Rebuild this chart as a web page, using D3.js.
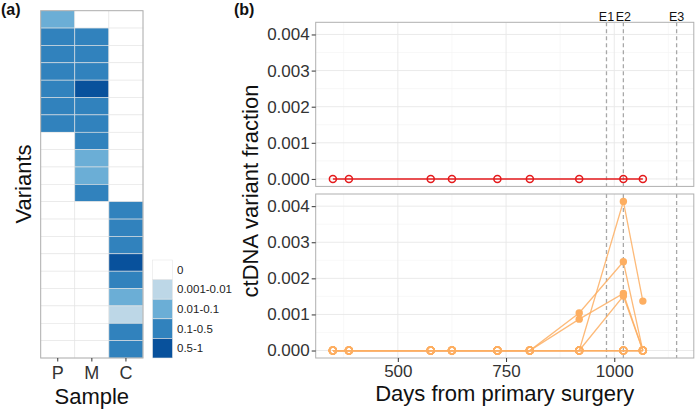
<!DOCTYPE html>
<html><head><meta charset="utf-8">
<script src="https://cdn.jsdelivr.net/npm/d3@7"></script>
<style>
body{margin:0;background:#fff}
text{font-family:"Liberation Sans",Arial,Helvetica,sans-serif}
</style>
</head><body>
<svg id="c" width="697" height="409"></svg>
<script>
// ---------- data: panel (a) heatmap ----------
const samples = ["P", "M", "C"];
const levels = ["0", "0.001-0.01", "0.01-0.1", "0.1-0.5", "0.5-1"];
const levelColors = ["#ffffff", "#bdd7e7", "#6baed6", "#3182bd", "#08519c"];
// level index per variant (20 variants, top to bottom)
const levelP = [2,3,3,3,3,3,3,0,0,0,0,0,0,0,0,0,0,0,0,0];
const levelM = [0,3,3,3,4,3,3,3,2,2,3,0,0,0,0,0,0,0,0,0];
const levelC = [0,0,0,0,0,0,0,0,0,0,0,3,3,3,4,3,2,1,3,3];

// ---------- data: panel (b) time series ----------
const days = [350, 387, 576, 625, 730, 805, 919, 1021, 1066];
const topSeries = [
  [0,0,0,0,0,0,0,0,0]
];
const bottomSeries = [
  [0,0,0,0,0,0,0,0,0],
  [0,0,0,0,0,0,0,0,0],
  [0,0,0,0,0,0,0,0,0],
  [0,0,0,0,0,0,0,0,0],
  [0,0,0,0,0,0,0,0,0],
  [0,0,0,0,0,0,0.00104,0.00246,0],
  [0,0,0,0,0,0,0.00087,0.00158,0],
  [0,0,0,0,0,0,0,0.00151,0],
  [0,0,0,0,0,0,0,0.00413,0.00137]
];
const eventNames = ["E1", "E2", "E3"];
const eventDays = [982, 1021, 1144];
const xTickVals = [500, 750, 1000];
const xMinorVals = [375, 625, 875, 1125];
const yTickVals = [0, 0.001, 0.002, 0.003, 0.004];
const yMinorVals = [0.0005, 0.0015, 0.0025, 0.0035];

const svg = d3.select("#c");
const FONT = '"Liberation Sans",Arial,sans-serif';

// ================= Panel (a) =================
const hx = d3.scaleBand().domain(samples).range([40.7, 143]);
const hy = d3.scaleBand().domain(d3.range(levelP.length)).range([10.7, 358]);
const hColor = d3.scaleOrdinal().domain(d3.range(levels.length)).range(levelColors);

const cells = [];
[levelP, levelM, levelC].forEach((arr, si) => {
  arr.forEach((lv, ri) => cells.push({s: samples[si], r: ri, lv}));
});
const gA = svg.append("g");
gA.selectAll("rect.cell").data(cells).enter().append("rect")
  .attr("class", "cell")
  .attr("x", d => hx(d.s)).attr("y", d => hy(d.r))
  .attr("width", hx.bandwidth()).attr("height", hy.bandwidth())
  .attr("fill", d => hColor(d.lv))
  .attr("stroke", "#e4e4e4").attr("stroke-width", 0.6);
gA.append("rect").attr("x", 40.7).attr("y", 10.7)
  .attr("width", 143 - 40.7).attr("height", 358 - 10.7)
  .attr("fill", "none").attr("stroke", "#b0b0b0").attr("stroke-width", 1);

const axA = gA.append("g").attr("transform", "translate(0,358)")
  .call(d3.axisBottom(hx).tickSize(3.5).tickPadding(5));
axA.select(".domain").remove();
axA.selectAll("line").attr("stroke", "#333");
axA.selectAll("text").attr("font-size", 18).attr("fill", "#333").attr("font-family", FONT);

gA.append("text").attr("x", 91.8).attr("y", 404).attr("text-anchor", "middle")
  .attr("font-size", 22).attr("fill", "#111").text("Sample");
gA.append("text").attr("transform", "translate(31,184) rotate(-90)")
  .attr("text-anchor", "middle").attr("font-size", 22).attr("fill", "#111").text("Variants");
svg.append("text").attr("x", 1).attr("y", 15).attr("font-size", 16)
  .attr("font-weight", "bold").attr("fill", "#111").text("(a)");

// legend
const lg = svg.append("g");
const keyH = 19.6;
const lgY = d3.scaleBand().domain(d3.range(levels.length)).range([260, 260 + keyH * levels.length]);
lg.selectAll("rect").data(levels).enter().append("rect")
  .attr("x", 152.5).attr("y", (d, i) => lgY(i))
  .attr("width", 20).attr("height", lgY.bandwidth())
  .attr("fill", (d, i) => hColor(i))
  .attr("stroke", "#e6e6e6").attr("stroke-width", 0.6);
lg.selectAll("text").data(levels).enter().append("text")
  .attr("x", 177).attr("y", (d, i) => lgY(i) + lgY.bandwidth() / 2)
  .attr("dy", "0.35em").attr("font-size", 11.5).attr("fill", "#222").text(d => d);

// ================= Panel (b) =================
const xL = 315.7, xR = 693.8;
const x = d3.scaleLinear().domain([310.3, 1183.7]).range([xL, xR]);
const panels = [
  {top: 22.3, bottom: 186.4, series: topSeries, color: "#e41a1c"},
  {top: 194, bottom: 358, series: bottomSeries, color: "#fdae61"}
];
const gB = svg.append("g");

panels.forEach((p, pi) => {
  const y = d3.scaleLinear().domain([-0.000207, 0.004337]).range([p.bottom, p.top]);
  const g = gB.append("g");
  // minor grid
  g.selectAll("line.mx").data(xMinorVals).enter().append("line")
    .attr("x1", d => x(d)).attr("x2", d => x(d)).attr("y1", p.top).attr("y2", p.bottom)
    .attr("stroke", "#f3f3f3").attr("stroke-width", 0.6);
  g.selectAll("line.my").data(yMinorVals).enter().append("line")
    .attr("y1", d => y(d)).attr("y2", d => y(d)).attr("x1", xL).attr("x2", xR)
    .attr("stroke", "#f3f3f3").attr("stroke-width", 0.6);
  // major grid
  g.selectAll("line.gx").data(xTickVals).enter().append("line")
    .attr("x1", d => x(d)).attr("x2", d => x(d)).attr("y1", p.top).attr("y2", p.bottom)
    .attr("stroke", "#e8e8e8").attr("stroke-width", 0.9);
  g.selectAll("line.gy").data(yTickVals).enter().append("line")
    .attr("y1", d => y(d)).attr("y2", d => y(d)).attr("x1", xL).attr("x2", xR)
    .attr("stroke", "#e8e8e8").attr("stroke-width", 0.9);
  // event lines
  g.selectAll("line.ev").data(eventDays).enter().append("line")
    .attr("x1", d => x(d)).attr("x2", d => x(d)).attr("y1", p.top).attr("y2", p.bottom)
    .attr("stroke", "#a8a8a8").attr("stroke-width", 1.3).attr("stroke-dasharray", "4,3");
  // series lines
  const line = d3.line().x((d, i) => x(days[i])).y(d => y(d));
  g.selectAll("path.ser").data(p.series).enter().append("path")
    .attr("d", line).attr("fill", "none")
    .attr("stroke", p.color).attr("stroke-width", pi === 0 ? 1.5 : 1.3)
    .attr("stroke-opacity", pi === 0 ? 1 : 0.85);
  // points
  const pts = [];
  p.series.forEach(s => s.forEach((v, i) => pts.push({d: days[i], v})));
  g.selectAll("circle.o").data(pts.filter(d => d.v === 0)).enter().append("circle")
    .attr("cx", d => x(d.d)).attr("cy", d => y(d.v)).attr("r", 3.5)
    .attr("fill", "none").attr("stroke", p.color).attr("stroke-width", 1.5);
  g.selectAll("circle.f").data(pts.filter(d => d.v !== 0)).enter().append("circle")
    .attr("cx", d => x(d.d)).attr("cy", d => y(d.v)).attr("r", 3.7)
    .attr("fill", p.color);
  // border
  g.append("rect").attr("x", xL).attr("y", p.top).attr("width", xR - xL).attr("height", p.bottom - p.top)
    .attr("fill", "none").attr("stroke", "#b0b0b0").attr("stroke-width", 1);
  // y axis
  const ay = g.append("g").attr("transform", `translate(${xL},0)`)
    .call(d3.axisLeft(y).tickValues(yTickVals).tickFormat(d3.format(".3f")).tickSize(4).tickPadding(2));
  ay.select(".domain").remove();
  ay.selectAll("line").attr("stroke", "#333");
  ay.selectAll("text").attr("font-size", 17).attr("fill", "#333").attr("font-family", FONT);
  if (pi === 1) {
    const ax = g.append("g").attr("transform", `translate(0,${p.bottom})`)
      .call(d3.axisBottom(x).tickValues(xTickVals).tickFormat(d3.format("d")).tickSize(4).tickPadding(3));
    ax.select(".domain").remove();
    ax.selectAll("line").attr("stroke", "#333");
    ax.selectAll("text").attr("font-size", 17).attr("fill", "#333").attr("font-family", FONT);
  }
});

// event labels
gB.selectAll("text.evl").data(eventNames).enter().append("text")
  .attr("x", (d, i) => x(eventDays[i])).attr("y", 20.5)
  .attr("text-anchor", "middle").attr("font-size", 12.5).attr("fill", "#111").text(d => d);

gB.append("text").attr("x", (xL + xR) / 2).attr("y", 401).attr("text-anchor", "middle")
  .attr("font-size", 22).attr("fill", "#111").text("Days from primary surgery");
gB.append("text").attr("transform", "translate(258,191) rotate(-90)").attr("text-anchor", "middle")
  .attr("font-size", 22).attr("fill", "#111").text("ctDNA variant fraction");
svg.append("text").attr("x", 234).attr("y", 15).attr("font-size", 16)
  .attr("font-weight", "bold").attr("fill", "#111").text("(b)");
</script>
</body></html>
